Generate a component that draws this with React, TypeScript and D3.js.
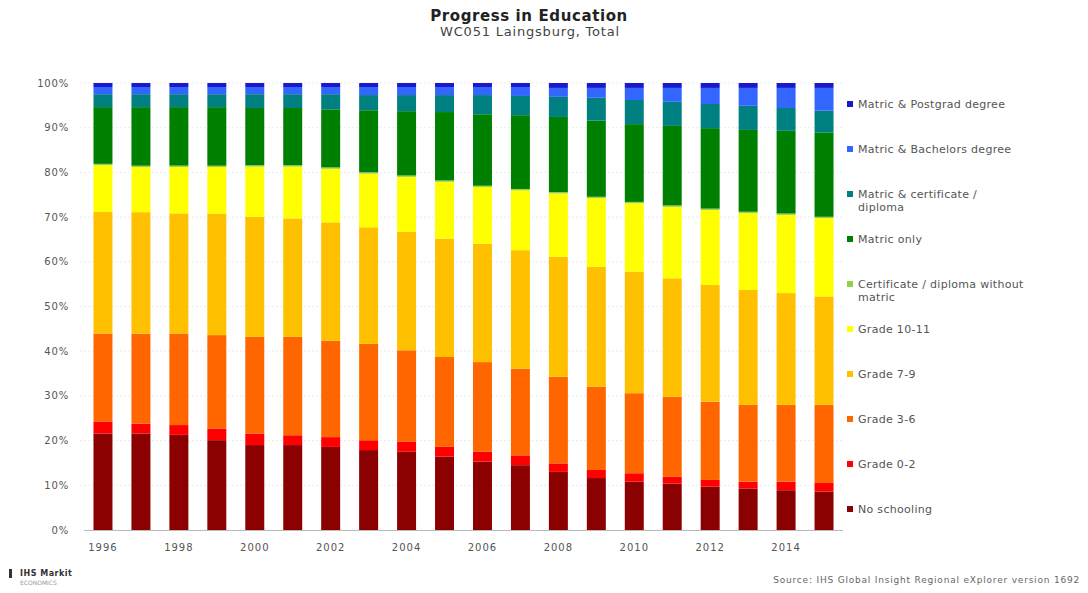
import React from "react";
import * as d3 from "d3";

const years = ["1996","1997","1998","1999","2000","2001","2002","2003","2004","2005","2006","2007","2008","2009","2010","2011","2012","2013","2014","2015"];
const xTickLabels = ["1996","1998","2000","2002","2004","2006","2008","2010","2012","2014"];
const yTicks = [0, 0.1, 0.2, 0.3, 0.4, 0.5, 0.6, 0.7, 0.8, 0.9, 1];

const seriesNames = [
  "No schooling",
  "Grade 0-2",
  "Grade 3-6",
  "Grade 7-9",
  "Grade 10-11",
  "Certificate / diploma without matric",
  "Matric only",
  "Matric & certificate / diploma",
  "Matric & Bachelors degree",
  "Matric & Postgrad degree",
];
const seriesColors = ["#8b0000", "#ff0000", "#ff6600", "#ffc000", "#ffff00", "#92d050", "#008000", "#008080", "#3366ff", "#1a1acc"];

const noSchooling = [21.6,21.6,21.3,20.1,19.0,19.0,18.6,17.9,17.5,16.4,15.3,14.5,13.0,11.6,10.8,10.4,9.7,9.3,8.9,8.6];
const grade0to2 = [2.6,2.2,2.2,2.6,2.6,2.2,2.2,2.2,2.2,2.2,2.2,2.2,1.9,1.8,1.9,1.5,1.5,1.5,1.9,1.9];
const grade3to6 = [19.8,20.1,20.5,20.9,21.6,22.0,21.6,21.6,20.5,20.1,20.1,19.4,19.4,18.6,17.9,17.9,17.5,17.2,17.2,17.5];
const grade7to9 = [27.2,27.2,26.9,27.2,26.9,26.5,26.5,26.1,26.5,26.5,26.5,26.5,26.8,26.8,27.2,26.5,26.1,25.7,25.0,24.2];
const grade10to11 = [10.5,10.1,10.4,10.4,11.2,11.6,12.0,12.0,12.3,12.7,12.7,13.4,14.2,15.3,15.3,16.0,16.8,17.2,17.5,17.5];
const certNoMatric = [0.3,0.3,0.3,0.3,0.3,0.3,0.3,0.3,0.3,0.3,0.3,0.3,0.3,0.3,0.3,0.3,0.3,0.3,0.3,0.3];
const matricOnly = [12.7,13.1,13.1,13.1,12.8,12.8,13.0,13.9,14.4,15.3,16.0,16.5,16.8,17.0,17.4,17.8,18.0,18.3,18.5,18.8];
const matricCert = [2.9,2.9,2.9,2.9,3.1,3.1,3.4,3.4,3.6,3.8,4.3,4.3,4.5,5.1,5.4,5.4,5.4,5.4,5.1,4.9];
const matricBachelors = [1.6,1.6,1.6,1.6,1.6,1.6,1.6,1.8,1.8,1.8,1.8,2.0,2.0,2.2,2.7,3.1,3.6,4.0,4.5,5.1];
const matricPostgrad = [0.9,0.9,0.9,0.9,0.9,0.9,0.9,0.9,0.9,0.9,0.9,0.9,1.1,1.1,1.1,1.1,1.1,1.1,1.1,1.1];

const seriesValues = [noSchooling, grade0to2, grade3to6, grade7to9, grade10to11, certNoMatric, matricOnly, matricCert, matricBachelors, matricPostgrad];

const legendLines: string[][] = [
  ["Matric & Postgrad degree"],
  ["Matric & Bachelors degree"],
  ["Matric & certificate /", "diploma"],
  ["Matric only"],
  ["Certificate / diploma without", "matric"],
  ["Grade 10-11"],
  ["Grade 7-9"],
  ["Grade 3-6"],
  ["Grade 0-2"],
  ["No schooling"],
];

export default function App() {
  const W = 1088, H = 593;
  const font = "'DejaVu Sans', Verdana, sans-serif";
  const table = years.map((y, i) => {
    const row: any = { year: y };
    seriesNames.forEach((s, k) => (row[s] = seriesValues[k][i]));
    return row;
  });
  const stacked = d3.stack().keys(seriesNames).offset(d3.stackOffsetExpand)(table);
  const x = d3.scaleBand().domain(years).range([84, 843]).paddingInner(0.5).paddingOuter(0.25);
  const y = d3.scaleLinear().domain([0, 1]).range([530, 83]);
  const fmt = d3.format(".0%");

  return (
    <svg width={W} height={H} style={{ position: "absolute", left: 0, top: 0, background: "#fff" }} fontFamily={font}>
      <rect x={0} y={0} width={W} height={H} fill="#ffffff" />
      <text x={529} y={21} textAnchor="middle" fontSize={15} fontWeight="bold" fill="#222" letterSpacing={0.6}>Progress in Education</text>
      <text x={530} y={36} textAnchor="middle" fontSize={13} fill="#444" letterSpacing={0.8}>WC051 Laingsburg, Total</text>

      {yTicks.map((t) => (
        <g key={t}>
          <line x1={80} x2={843} y1={y(t)} y2={y(t)} stroke="#ececec" strokeDasharray="2,2" />
          <text x={69} y={y(t)} dy="0.35em" textAnchor="end" fontSize={10} fill="#555" letterSpacing={0.8}>{fmt(t)}</text>
        </g>
      ))}

      {stacked.map((layer, k) => (
        <g key={layer.key} fill={seriesColors[k]}>
          {layer.map((d: any, i: number) => (
            <rect key={i} x={x(years[i])} width={x.bandwidth()} y={y(d[1])} height={Math.max(0, y(d[0]) - y(d[1]))} />
          ))}
        </g>
      ))}

      <line x1={84} x2={843} y1={530.5} y2={530.5} stroke="#bbb" />
      {xTickLabels.map((l) => (
        <text key={l} x={(x(l) as number) + x.bandwidth() / 2} y={551} textAnchor="middle" fontSize={10} fill="#555" letterSpacing={1}>{l}</text>
      ))}

      {legendLines.map((lines, j) => {
        const k = seriesNames.length - 1 - j;
        const ly = 104 + j * 45;
        return (
          <g key={j}>
            <rect x={847} y={ly - 3} width={6} height={6} fill={seriesColors[k]} />
            {lines.map((ln, m) => (
              <text key={m} x={858} y={ly + m * 13} dy="0.35em" fontSize={11} fill="#555" letterSpacing={0.3}>{ln}</text>
            ))}
          </g>
        );
      })}

      <rect x={9} y={569} width={3} height={9} fill="#333" />
      <text x={20} y={576} fontSize={8} fontWeight="bold" fill="#333" letterSpacing={0.5}>IHS Markit</text>
      <text x={20} y={585} fontSize={6} fill="#999">ECONOMICS</text>
      <text x={1080} y={583} textAnchor="end" fontSize={9} fill="#666" letterSpacing={0.8}>Source: IHS Global Insight Regional eXplorer version 1692</text>
    </svg>
  );
}
